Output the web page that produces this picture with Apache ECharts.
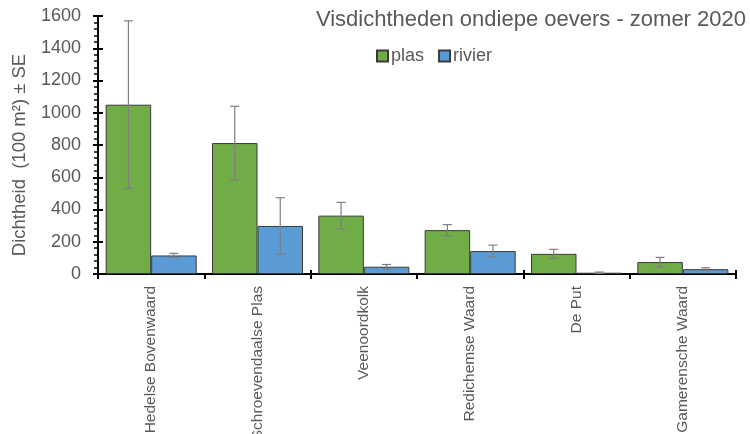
<!DOCTYPE html>
<html><head><meta charset="utf-8">
<script src="https://cdn.jsdelivr.net/npm/echarts@6/dist/echarts.min.js"></script>
<style>html,body{margin:0;padding:0;background:#fff}#c{width:750px;height:434px}</style>
</head><body><div id="c"></div>
<script>
const categories = ['Hedelse Bovenwaard','Schroevendaalse Plas','Veenoordkolk','Redichemse Waard','De Put','Gamerensche Waard'];
const plas = [1050, 812, 362, 272, 125, 74];
const plasSE = [520, 228, 82, 34, 28, 29];
const rivier = [115, 298, 45, 142, 8, 30];
const rivierSE = [13, 175, 14, 37, 4, 9];
const yTicks = [0, 200, 400, 600, 800, 1000, 1200, 1400, 1600];

const GAP = 0.144;
const errData = [];
plas.forEach((v, i) => errData.push([i, v, plasSE[i], -1]));
rivier.forEach((v, i) => errData.push([i, v, rivierSE[i], 1]));

const txt = '#595959';
const chart = echarts.init(document.getElementById('c'));
chart.setOption({
  animation: false,
  title: {
    text: 'Visdichtheden ondiepe oevers - zomer 2020',
    right: 4, top: 9, padding: 0,
    textStyle: { fontFamily: 'Liberation Sans', fontSize: 22, fontWeight: 'normal', color: txt }
  },
  legend: {
    left: 371, top: 42, itemWidth: 11, itemHeight: 11, itemGap: 14, icon: 'rect',
    data: ['plas', 'rivier'],
    textStyle: { fontFamily: 'Liberation Sans', fontSize: 18, color: txt, padding: [0, 0, 0, -2] }
  },
  graphic: [{
    type: 'text', x: 20, y: 155, rotation: Math.PI / 2,
    style: { text: 'Dichtheid  (100 m²) ± SE', fontFamily: 'Liberation Sans', fontSize: 18.5,
      fill: txt, align: 'center', verticalAlign: 'middle' }
  }],
  grid: { left: 98, right: 14, top: 16, bottom: 160, outerBoundsMode: 'none', containLabel: false },
  xAxis: [{
    type: 'category', data: categories,
    axisLine: { lineStyle: { color: '#000', width: 2 } },
    axisTick: { show: true, length: 5, lineStyle: { color: '#000', width: 2 } },
    axisLabel: { rotate: 90, margin: 12, interval: 0, fontFamily: 'Liberation Sans', fontSize: 15.5, color: txt }
  }, {
    type: 'category', data: categories, position: 'bottom',
    axisLine: { show: false },
    axisTick: { show: true, inside: true, length: 4, lineStyle: { color: '#000', width: 2 } },
    axisLabel: { show: false }
  }],
  yAxis: [{
    type: 'value', min: 0, max: 1600, interval: 200,
    axisLine: { show: true, lineStyle: { color: '#000', width: 2 } },
    axisTick: { show: true, length: 5, lineStyle: { color: '#000', width: 2 } },
    minorTick: { show: true, splitNumber: 5, length: 4, lineStyle: { color: '#000', width: 1.5 } },
    splitLine: { show: false },
    axisLabel: { margin: 17, fontFamily: 'Liberation Sans', fontSize: 18, color: txt,
      formatter: v => yTicks.includes(v) ? String(v) : '' }
  }, {
    type: 'value', min: 0, max: 1600, interval: 200, position: 'left',
    axisLine: { show: false },
    axisTick: { show: true, inside: true, length: 5, lineStyle: { color: '#000', width: 2 } },
    axisLabel: { show: false }, splitLine: { show: false }
  }],
  series: [{
    name: 'plas', type: 'bar', data: plas, barGap: '0%', barCategoryGap: (GAP * 100) + '%',
    itemStyle: { color: '#70AD47', borderColor: '#3a3a3a', borderWidth: 1 }
  }, {
    name: 'rivier', type: 'bar', data: rivier, barGap: '0%', barCategoryGap: (GAP * 100) + '%',
    itemStyle: { color: '#5B9BD5', borderColor: '#3a3a3a', borderWidth: 1 }
  }, {
    type: 'custom', z: 10, data: errData,
    renderItem: (params, api) => {
      const i = api.value(0), v = api.value(1), se = api.value(2), side = api.value(3);
      const cw = api.size([1, 0])[0];
      const off = side * cw * (1 - GAP) / 4;
      const c = api.coord([i, v]);
      const hi = api.coord([i, v + se]);
      const lo = api.coord([i, Math.max(0, v - se)]);
      const x = c[0] + off, hw = 4.5;
      const st = { stroke: '#7f7f7f', lineWidth: 1.2 };
      return { type: 'group', children: [
        { type: 'line', shape: { x1: x, y1: hi[1], x2: x, y2: lo[1] }, style: st },
        { type: 'line', shape: { x1: x - hw, y1: hi[1], x2: x + hw, y2: hi[1] }, style: st },
        { type: 'line', shape: { x1: x - hw, y1: lo[1], x2: x + hw, y2: lo[1] }, style: st }
      ]};
    }
  }]
});
</script></body></html>
